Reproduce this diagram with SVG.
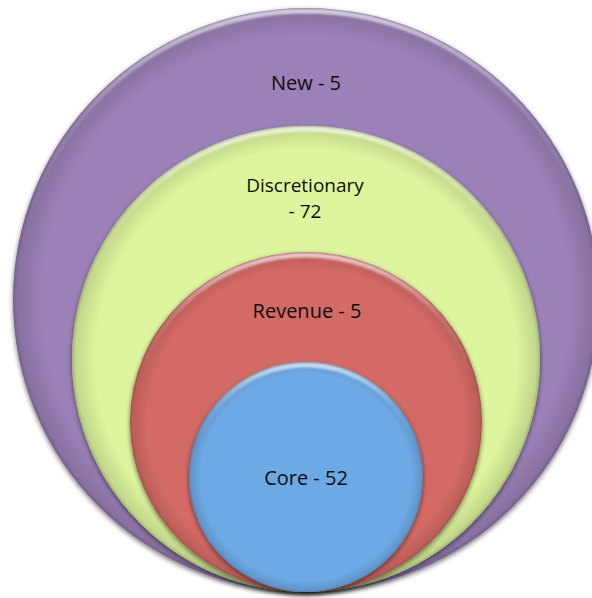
<svg xmlns="http://www.w3.org/2000/svg" width="592" height="598" viewBox="0 0 592 598">
  <defs>
    <style>
      .label { font-family: "Open Sans", "Liberation Sans", sans-serif; font-size: 20px; fill: #0d0d0d; text-anchor: middle; }
      .label.tight { font-size: 19px; }
      .rim { fill: url(#rimShade); }
      .shine { fill: none; stroke: url(#topShine); stroke-width: 5; filter: url(#soft); }
      .disc { filter: url(#drop); }
    </style>
    <!-- darkening toward the edge of each disc -->
    <radialGradient id="rimShade" cx="0.5" cy="0.5" r="0.5">
      <stop offset="0.9" stop-color="#000" stop-opacity="0"/>
      <stop offset="0.985" stop-color="#000" stop-opacity="0.12"/>
      <stop offset="1" stop-color="#000" stop-opacity="0.25"/>
    </radialGradient>
    <!-- pale bevel along the upper edge -->
    <linearGradient id="topShine" x1="0" y1="0" x2="0" y2="1">
      <stop offset="0" stop-color="#fff" stop-opacity="0.65"/>
      <stop offset="0.18" stop-color="#fff" stop-opacity="0.15"/>
      <stop offset="0.35" stop-color="#fff" stop-opacity="0"/>
    </linearGradient>
    <filter id="soft" x="-5%" y="-5%" width="110%" height="110%">
      <feGaussianBlur stdDeviation="1.2"/>
    </filter>
    <filter id="drop" x="-10%" y="-10%" width="120%" height="120%">
      <feGaussianBlur in="SourceAlpha" stdDeviation="2.5"/>
      <feOffset dy="2" result="b"/>
      <feComponentTransfer in="b" result="s">
        <feFuncA type="linear" slope="0.55"/>
      </feComponentTransfer>
      <feMerge>
        <feMergeNode in="s"/>
        <feMergeNode in="SourceGraphic"/>
      </feMerge>
    </filter>
  </defs>

  <rect width="592" height="598" fill="#ffffff"/>

  <g id="node-new">
    <ellipse class="disc" cx="306" cy="300" rx="293" ry="292" fill="#9b81b8"/>
    <ellipse class="rim" cx="306" cy="300" rx="293" ry="292"/>
    <ellipse class="shine" cx="306" cy="300" rx="290" ry="289"/>
    <text class="label" x="306" y="90">New - 5</text>
  </g>

  <g id="node-discretionary">
    <ellipse class="disc" cx="306" cy="359" rx="234" ry="233" fill="#ddf59d"/>
    <ellipse class="rim" cx="306" cy="359" rx="234" ry="233"/>
    <ellipse class="shine" cx="306" cy="359" rx="231" ry="230"/>
    <text class="label tight" x="305" y="192">Discretionary</text>
    <text class="label tight" x="305" y="218">- 72</text>
  </g>

  <g id="node-revenue">
    <ellipse class="disc" cx="306" cy="422" rx="176" ry="170" fill="#d46b65"/>
    <ellipse class="rim" cx="306" cy="422" rx="176" ry="170"/>
    <ellipse class="shine" cx="306" cy="422" rx="173" ry="167"/>
    <text class="label" x="307" y="318">Revenue - 5</text>
  </g>

  <g id="node-core">
    <ellipse class="disc" cx="306" cy="477" rx="117" ry="115" fill="#6da9e5"/>
    <ellipse class="rim" cx="306" cy="477" rx="117" ry="115"/>
    <ellipse class="shine" cx="306" cy="477" rx="114" ry="112"/>
    <text class="label" x="306" y="485">Core - 52</text>
  </g>
</svg>
